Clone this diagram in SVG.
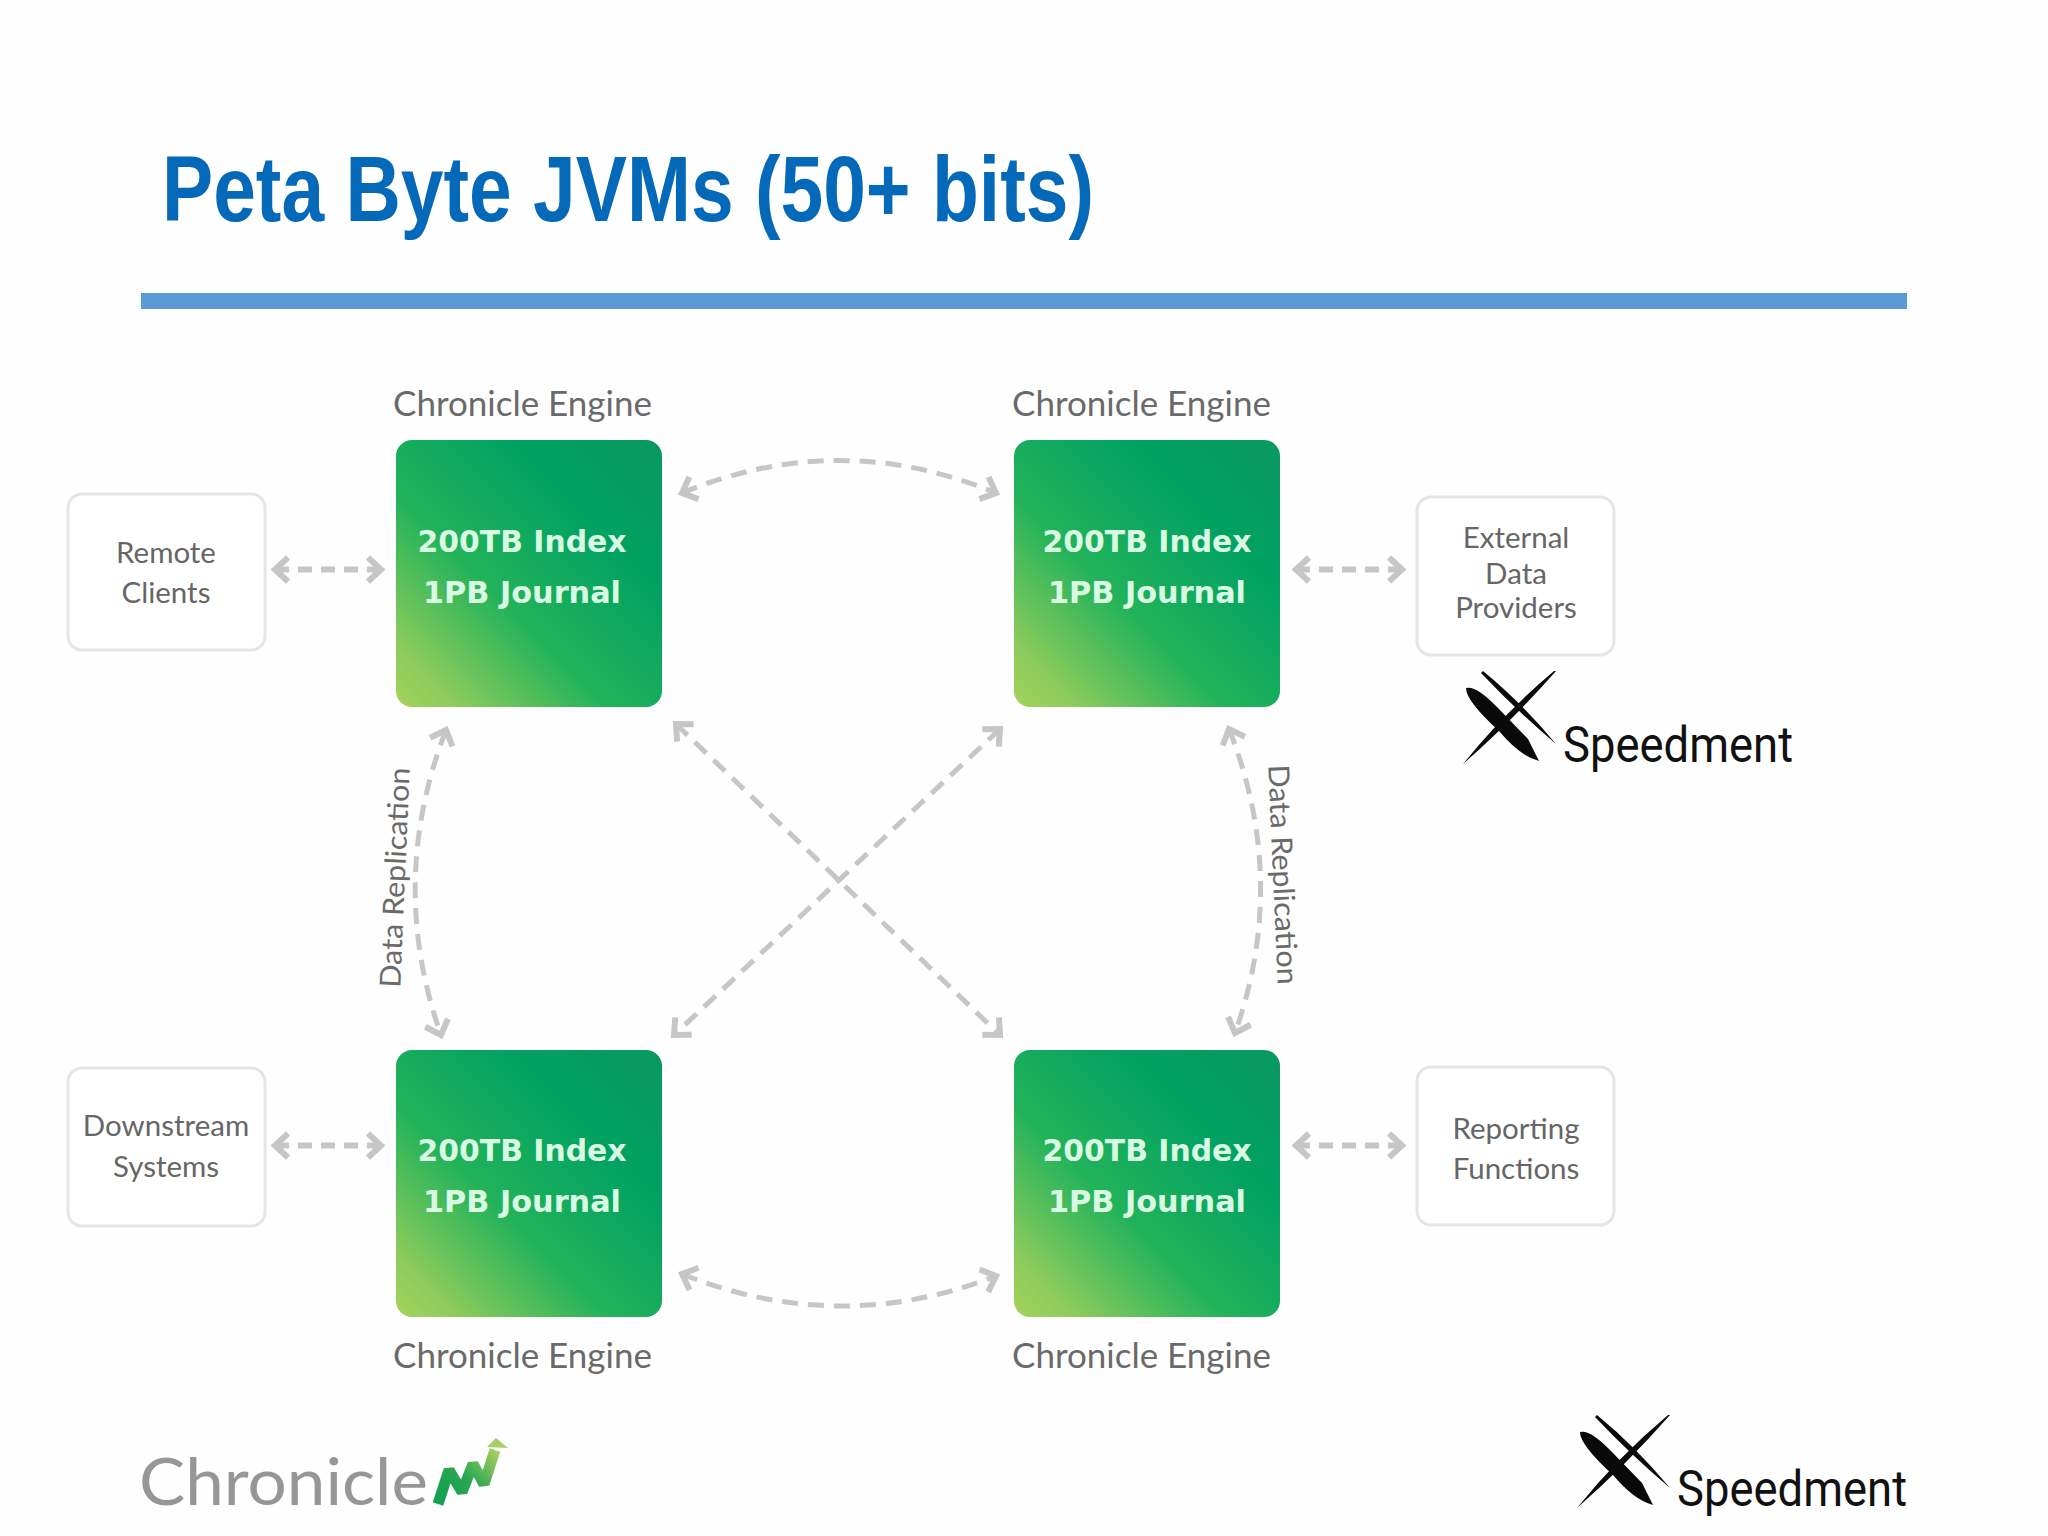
<svg xmlns="http://www.w3.org/2000/svg" width="2048" height="1536" viewBox="0 0 2048 1536">
<style>
.t{font-family:"Liberation Sans",Arial,sans-serif}
.lbl{font-family:Lato,"Noto Sans",sans-serif;font-size:35px;fill:#6a6a6a;text-anchor:middle}
.box{fill:#fff;stroke:#e5e5e5;stroke-width:3}
.boxt{font-family:Lato,"Noto Sans",sans-serif;font-size:29.5px;fill:#666;text-anchor:middle}
.eng{fill:url(#g)}
.engt{font-family:"DejaVu Sans",sans-serif;font-weight:700;font-size:31px;fill:#d9fbe2;text-anchor:middle}
.c{fill:none;stroke:#c6c6c6;stroke-width:5;stroke-dasharray:16 10;marker-start:url(#a);marker-end:url(#a)}
.h{stroke-width:6;stroke-dasharray:14 9}
.rep{font-family:Lato,"Noto Sans",sans-serif;font-size:29px;fill:#6a6a6a;text-anchor:middle}
.sp{font-family:Roboto,"Liberation Sans",sans-serif;font-size:50px;fill:#111}
</style>
<defs>
<linearGradient id="g" x1="0" y1="1" x2="1" y2="0">
<stop offset="0" stop-color="#a6d35a"/><stop offset=".12" stop-color="#8ccb5c"/><stop offset=".4" stop-color="#22b25a"/><stop offset=".72" stop-color="#00a163"/><stop offset="1" stop-color="#0a9860"/>
</linearGradient>
<linearGradient id="m" x1="0" y1="1" x2="1" y2="0">
<stop offset="0" stop-color="#12a050"/><stop offset=".5" stop-color="#2aa652"/><stop offset="1" stop-color="#a5d060"/>
</linearGradient>
<marker id="a" markerUnits="userSpaceOnUse" markerWidth="34" markerHeight="34" refX="17" refY="17" viewBox="0 0 34 34" orient="auto-start-reverse" overflow="visible">
<path d="M4 5L17 17L4 29" fill="none" stroke="#c6c6c6" stroke-width="6"/>
</marker>
</defs>
<rect width="2048" height="1536" fill="#fefefe"/>
<text class="t" x="162" y="221" font-size="92" font-weight="700" fill="#0569b9" textLength="932" lengthAdjust="spacingAndGlyphs">Peta Byte JVMs (50+ bits)</text>
<rect x="141" y="293" width="1766" height="16" fill="#5b9bd5"/>
<g id="connectors">
<path class="c" d="M682 493Q839 428 996 493"/>
<path class="c" d="M682 1274Q839 1337 996 1276"/>
<path class="c" d="M446 730Q387 883 441 1035"/>
<path class="c" d="M1229 729Q1289 881 1235 1033"/>
<path class="c" d="M676 724L1000 1035"/>
<path class="c" d="M1000 729L674 1035"/>
<path class="c h" d="M275 569.500H381"/>
<path class="c h" d="M1296 569.500H1402"/>
<path class="c h" d="M275 1145.500H381"/>
<path class="c h" d="M1296 1145.500H1402"/>
</g>
<text class="rep" transform="translate(405 878) rotate(-87.5)" textLength="220" lengthAdjust="spacingAndGlyphs">Data Replication</text>
<text class="rep" transform="translate(1273 875) rotate(87.5)" textLength="220" lengthAdjust="spacingAndGlyphs">Data Replication</text>
<g id="engine-tl"><text class="lbl" x="522.500" y="416">Chronicle Engine</text><rect class="eng" x="396" y="440" width="266" height="267" rx="16"/><text class="engt" x="522" y="552" textLength="209" lengthAdjust="spacingAndGlyphs">200TB Index</text><text class="engt" x="522" y="603" textLength="198" lengthAdjust="spacingAndGlyphs">1PB Journal</text></g>
<g id="engine-tr"><text class="lbl" x="1141.500" y="416">Chronicle Engine</text><rect class="eng" x="1014" y="440" width="266" height="267" rx="16"/><text class="engt" x="1147" y="552" textLength="209" lengthAdjust="spacingAndGlyphs">200TB Index</text><text class="engt" x="1147" y="603" textLength="198" lengthAdjust="spacingAndGlyphs">1PB Journal</text></g>
<g id="engine-bl"><rect class="eng" x="396" y="1050" width="266" height="267" rx="16"/><text class="engt" x="522" y="1161" textLength="209" lengthAdjust="spacingAndGlyphs">200TB Index</text><text class="engt" x="522" y="1212" textLength="198" lengthAdjust="spacingAndGlyphs">1PB Journal</text><text class="lbl" x="522.500" y="1368">Chronicle Engine</text></g>
<g id="engine-br"><rect class="eng" x="1014" y="1050" width="266" height="267" rx="16"/><text class="engt" x="1147" y="1161" textLength="209" lengthAdjust="spacingAndGlyphs">200TB Index</text><text class="engt" x="1147" y="1212" textLength="198" lengthAdjust="spacingAndGlyphs">1PB Journal</text><text class="lbl" x="1141.500" y="1368">Chronicle Engine</text></g>
<g id="remote"><rect class="box" x="68" y="494" width="197" height="156" rx="14"/><text class="boxt" x="166" y="563">Remote</text><text class="boxt" x="166" y="603">Clients</text></g>
<g id="external"><rect class="box" x="1417" y="497" width="197" height="158" rx="14"/><text class="boxt" x="1516" y="548">External</text><text class="boxt" x="1516" y="584">Data</text><text class="boxt" x="1516" y="618">Providers</text></g>
<g id="downstream"><rect class="box" x="68" y="1068" width="197" height="158" rx="14"/><text class="boxt" x="166" y="1136">Downstream</text><text class="boxt" x="166" y="1177">Systems</text></g>
<g id="reporting"><rect class="box" x="1417" y="1067" width="197" height="158" rx="14"/><text class="boxt" x="1516" y="1139">Reporting</text><text class="boxt" x="1516" y="1179">Functions</text></g>
<g id="speedment-1">
<path d="M1483 671Q1522 703 1556 744Q1517 711 1481 673ZM1556 671Q1513 720 1463 764Q1503 714 1554 671Z" fill="#0a0a0a"/>
<path d="M1466 688Q1476 685 1498 708L1528 739L1539 761Q1520 756 1499 731Q1466 701 1466 688Z" fill="#0a0a0a"/>
<text class="sp" x="1563" y="762" textLength="230" lengthAdjust="spacingAndGlyphs">Speedment</text>
</g>
<g id="speedment-2" transform="translate(114 744)">
<path d="M1483 671Q1522 703 1556 744Q1517 711 1481 673ZM1556 671Q1513 720 1463 764Q1503 714 1554 671Z" fill="#0a0a0a"/>
<path d="M1466 688Q1476 685 1498 708L1528 739L1539 761Q1520 756 1499 731Q1466 701 1466 688Z" fill="#0a0a0a"/>
<text class="sp" x="1563" y="762" textLength="230" lengthAdjust="spacingAndGlyphs">Speedment</text>
</g>
<g id="chronicle-logo">
<text x="139" y="1505" font-family="Lato,'Noto Sans',sans-serif" font-size="66" fill="#969696" textLength="289" lengthAdjust="spacingAndGlyphs">Chronicle</text>
<path d="M438 1504L449 1470L462 1492L473 1464L484 1484L495 1450" fill="none" stroke="url(#m)" stroke-width="11" stroke-linejoin="bevel"/>
<path d="M487 1447L496 1438L508 1448Z" fill="#a5d060"/>
</g>
</svg>
